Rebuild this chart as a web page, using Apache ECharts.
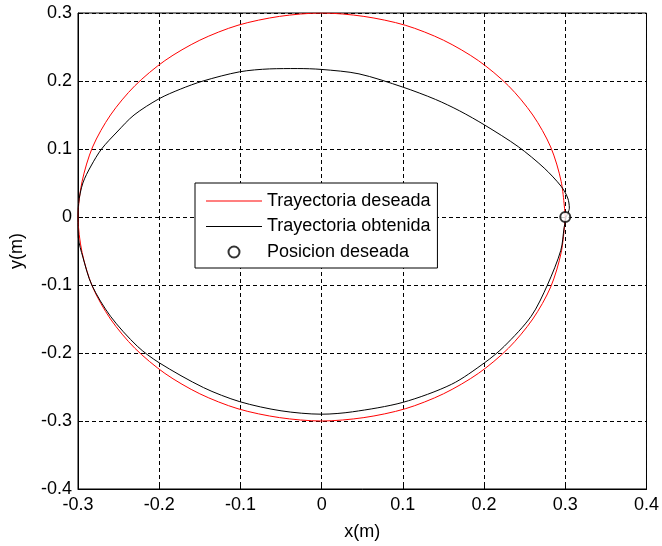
<!DOCTYPE html>
<html>
<head>
<meta charset="utf-8">
<script src="https://cdn.jsdelivr.net/npm/echarts@6/dist/echarts.min.js"></script>
<style>
html,body{margin:0;padding:0;background:#fff;}
#chart{width:662px;height:546px;}
</style>
</head>
<body>
<div id="chart"></div>
<script>
// Desired trajectory (red)
var desiredX = [0.300,0.295,0.282,0.260,0.230,0.193,0.150,0.103,0.052,0.000,-0.052,-0.103,-0.150,-0.193,-0.230,-0.260,-0.282,-0.295,-0.300,-0.295,-0.282,-0.260,-0.230,-0.193,-0.150,-0.103,-0.052,0.000,0.052,0.103,0.150,0.193,0.230,0.260,0.282,0.295,0.300];
var desiredY = [0.000,0.052,0.103,0.150,0.193,0.230,0.260,0.282,0.295,0.300,0.295,0.282,0.260,0.230,0.193,0.150,0.103,0.052,0.000,-0.052,-0.103,-0.150,-0.193,-0.230,-0.260,-0.282,-0.295,-0.300,-0.295,-0.282,-0.260,-0.230,-0.193,-0.150,-0.103,-0.052,0.000];
// Obtained trajectory (black)
var obtainedX = [0.301,0.305,0.303,0.295,0.274,0.242,0.201,0.170,0.140,0.100,0.046,0.000,-0.030,-0.064,-0.101,-0.146,-0.174,-0.200,-0.231,-0.252,-0.271,-0.284,-0.294,-0.2993,-0.300,-0.2996,-0.294,-0.283,-0.260,-0.227,-0.200,-0.1456,-0.1007,-0.050,0.000,0.038,0.100,0.160,0.201,0.225,0.258,0.278,0.2945,0.2986,0.301];
var obtainedY = [0.000,0.013,0.028,0.045,0.072,0.1035,0.135,0.156,0.173,0.191,0.2105,0.2170,0.2183,0.2178,0.2135,0.200,0.188,0.174,0.150,0.125,0.100,0.075,0.050,0.020,-0.008,-0.030,-0.059,-0.100,-0.146,-0.190,-0.2144,-0.2508,-0.2716,-0.2850,-0.2900,-0.2865,-0.2726,-0.246,-0.214,-0.190,-0.146,-0.100,-0.049,-0.0156,0.000];
// Desired position
var targetX = [0.3];
var targetY = [0.0];
// Axis ticks
var xTickValues = [-0.3,-0.2,-0.1,0,0.1,0.2,0.3,0.4];
var xTickLabels = ['-0.3','-0.2','-0.1','0','0.1','0.2','0.3','0.4'];
var yTickValues = [-0.4,-0.3,-0.2,-0.1,0,0.1,0.2,0.3];
var yTickLabels = ['-0.4','-0.3','-0.2','-0.1','0','0.1','0.2','0.3'];
var seriesNames = ['Trayectoria deseada','Trayectoria obtenida','Posicion deseada'];

function zip(a,b){var r=[];for(var i=0;i<a.length;i++)r.push([a[i],b[i]]);return r;}
function tickFmt(vals,labels){return function(v){for(var i=0;i<vals.length;i++){if(Math.abs(vals[i]-v)<1e-9)return labels[i];}return '';};}

var FONT = '"Liberation Sans", Arial, sans-serif';
var FS = 18;
var lineIcon = 'path://M0,0H56V1H0Z';
var chart = echarts.init(document.getElementById('chart'), null, {renderer:'canvas'});
var dashed = {color:'#000', width:1, type:[4,3]};
chart.setOption({
  animation:false,
  backgroundColor:'#fff',
  grid:{left:77,right:11,top:13,bottom:52,show:true,borderColor:'#000',borderWidth:1,containLabel:false},
  xAxis:{type:'value',min:-0.3,max:0.4,interval:0.1,
    name:'x(m)',nameLocation:'middle',nameGap:34,nameTextStyle:{color:'#000',fontSize:FS,fontFamily:FONT},
    axisLine:{show:true,onZero:false,lineStyle:{color:'#000'}},
    axisTick:{show:true,inside:true,length:5,lineStyle:{color:'#000'}},
    axisLabel:{color:'#000',fontSize:FS,fontFamily:FONT,margin:7,formatter:tickFmt(xTickValues,xTickLabels)},
    splitLine:{show:true,lineStyle:dashed}},
  yAxis:{type:'value',min:-0.4,max:0.3,interval:0.1,
    name:'y(m)',nameLocation:'middle',nameGap:52,nameTextStyle:{color:'#000',fontSize:FS,fontFamily:FONT},
    axisLine:{show:true,onZero:false,lineStyle:{color:'#000'}},
    axisTick:{show:true,inside:true,length:5,lineStyle:{color:'#000'}},
    axisLabel:{color:'#000',fontSize:FS,fontFamily:FONT,margin:6,formatter:tickFmt(yTickValues,yTickLabels)},
    splitLine:{show:true,lineStyle:dashed}},
  legend:{orient:'vertical',left:195,top:183,padding:[9,7,7,11],
    backgroundColor:'#fff',borderColor:'#000',borderWidth:1,borderRadius:0,
    itemWidth:56,itemHeight:11,itemGap:7.5,
    textStyle:{color:'#000',fontSize:FS,fontFamily:FONT,lineHeight:18},
    data:[{name:seriesNames[0],icon:lineIcon,itemStyle:{color:'#ff0000'}},
          {name:seriesNames[1],icon:lineIcon,itemStyle:{color:'#000'}},
          {name:seriesNames[2],icon:'emptyCircle'}]},
  series:[
    {name:seriesNames[0],type:'line',data:zip(desiredX,desiredY),symbol:'none',smooth:0.3,
     lineStyle:{color:'#ff0000',width:1},itemStyle:{color:'#ff0000'},z:3},
    {name:seriesNames[1],type:'line',data:zip(obtainedX,obtainedY),symbol:'none',smooth:0.3,
     lineStyle:{color:'#000',width:1},itemStyle:{color:'#000'},z:4},
    {name:seriesNames[2],type:'scatter',data:zip(targetX,targetY),symbol:'emptyCircle',symbolSize:10,
     itemStyle:{color:'#000',borderColor:'#000',borderWidth:1},z:5}
  ]
});
</script>
</body>
</html>
